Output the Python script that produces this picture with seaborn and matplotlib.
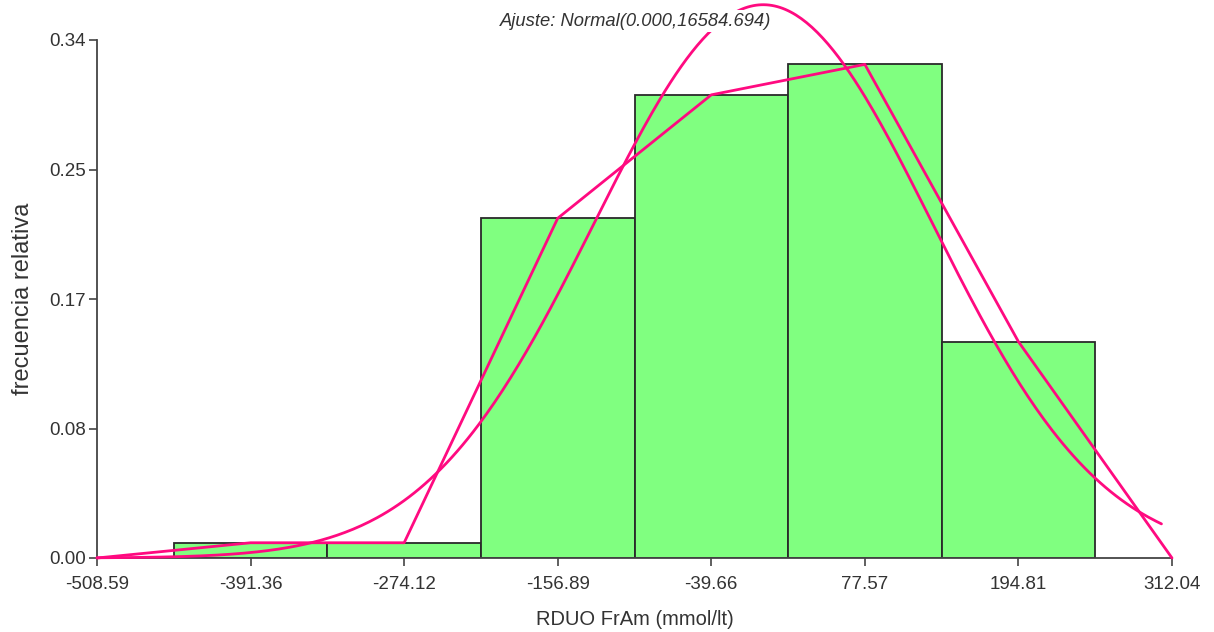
import numpy as np
import pandas as pd
import matplotlib
matplotlib.use("Agg")
import matplotlib.pyplot as plt
import seaborn as sns

# Class marks (bin centres) and relative frequencies of RDUO FrAm
class_marks = [-391.36, -274.12, -156.89, -39.66, 77.57, 194.81]
rel_freq = [0.010, 0.010, 0.223, 0.304, 0.324, 0.142]

# Axis tick positions / labels
x_ticks = [-508.59, -391.36, -274.12, -156.89, -39.66, 77.57, 194.81, 312.04]
y_ticks = [0.0, 0.085, 0.17, 0.255, 0.34]
y_tick_labels = ["0.00", "0.08", "0.17", "0.25", "0.34"]

# Fitted normal: mean and variance
fit_mean = 0.000
fit_var = 16584.694

bin_width = x_ticks[1] - x_ticks[0]
edges = [c - bin_width / 2 for c in class_marks] + [class_marks[-1] + bin_width / 2]

sns.set_theme(style="white")
plt.rcParams["font.family"] = ["Liberation Sans", "DejaVu Sans"]

text_col = "#333333"
line_col = "#FF0A80"

fig = plt.figure(figsize=(12.14, 6.32), dpi=100)
ax = fig.add_axes([97 / 1214, 1 - 558 / 632, (1172 - 97) / 1214, (558 - 40) / 632])

hist_df = pd.DataFrame({"x": class_marks, "w": rel_freq})
sns.histplot(data=hist_df, x="x", weights="w", bins=edges, stat="count",
             color="#80FF80", alpha=1.0, edgecolor="#2a2a2a", linewidth=1.3, ax=ax,
             zorder=2)

# Frequency polygon, closed at the outer tick positions
poly_df = pd.DataFrame({
    "x": [x_ticks[0]] + class_marks + [x_ticks[-1]],
    "y": [0.0] + rel_freq + [0.0],
})
sns.lineplot(data=poly_df, x="x", y="y", color=line_col, linewidth=2.0,
             sort=False, ax=ax, zorder=3, clip_on=False)

# Normal fit scaled to relative frequency per class
sd = np.sqrt(fit_var)
xs = np.linspace(x_ticks[0], 304.0, 400)
ys = bin_width * np.exp(-(xs - fit_mean) ** 2 / (2 * fit_var)) / (sd * np.sqrt(2 * np.pi))
curve_df = pd.DataFrame({"x": xs, "y": ys})
sns.lineplot(data=curve_df, x="x", y="y", color=line_col, linewidth=2.0,
             ax=ax, zorder=3, clip_on=False)

ax.set_xlim(x_ticks[0], x_ticks[-1])
ax.set_ylim(0, 0.34)
ax.set_xticks(x_ticks)
ax.set_xticklabels([f"{t:.2f}" for t in x_ticks])
ax.set_yticks(y_ticks)
ax.set_yticklabels(y_tick_labels)

for s in ["top", "right"]:
    ax.spines[s].set_visible(False)
for s in ["left", "bottom"]:
    ax.spines[s].set_color("#444444")
    ax.spines[s].set_linewidth(1.3)

ax.tick_params(axis="both", which="major", direction="out", length=6, width=1.2,
               color="#444444", labelcolor=text_col, labelsize=13.5,
               bottom=True, left=True)
ax.tick_params(axis="x", pad=7)
ax.tick_params(axis="y", pad=2)

ax.set_xlabel("RDUO FrAm (mmol/lt)", fontsize=14.5, color=text_col, labelpad=12)
ax.set_ylabel("frecuencia relativa", fontsize=17, color=text_col, labelpad=11)

fig.text(636 / 1214, 1 - 21 / 632, "Ajuste: Normal(0.000,16584.694)",
         ha="center", va="center", fontsize=13.2, style="italic", color=text_col,
         bbox=dict(facecolor="white", edgecolor="none", pad=1.5), zorder=10)

fig.savefig("out.png", dpi=100)
